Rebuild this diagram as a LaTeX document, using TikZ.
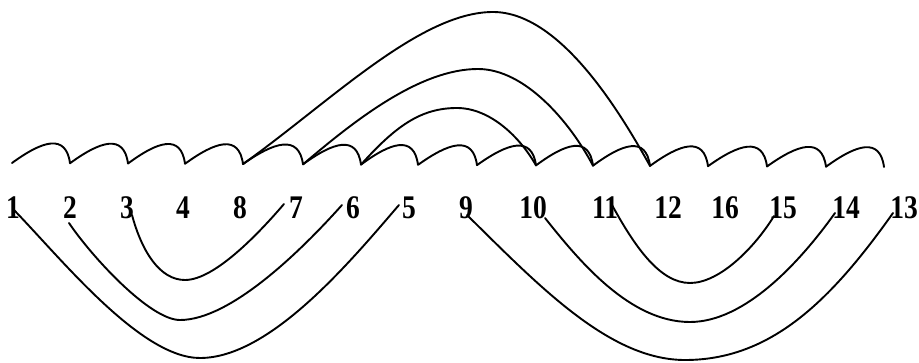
\documentclass[tikz,border=0pt]{standalone}
\usepackage{fontspec}
\setmainfont{Liberation Serif}
\usepackage{graphicx}
\newcommand\vstr[1]{\scalebox{1}[1.2]{#1}}
\begin{document}
\begin{tikzpicture}[x=1pt,y=1pt,
  declare function={cy(\x)=199-(\x-12)*0.0046;},
  wire/.style={line width=1.9pt, line join=round, line cap=round},
  num/.style={inner sep=0pt, font=\fontsize{27.5}{27.5}\selectfont\bfseries}]
\useasboundingbox (0,0) rectangle (919,362);

% number row
\foreach \lab/\xx in {1/13,2/70,3/127,4/183,8/240,7/296,6/353,5/409,9/466,10/533,11/605,12/668,16/725,15/783,14/846,13/904}
  \node[num] (n\lab) at (\xx,154.5) {\vstr{\lab}};

% scalloped line
\draw[wire] (12,{cy(12)})
  \foreach \a/\b in {12/70,70/128,128/185,185/243,243/303,303/361,361/418,418/477,477/536,536/593,593/650,650/708,708/767,767/826,826/884}
  { .. controls ({\a+0.52*(\b-\a)},{cy(\a)+22}) and ({\a+0.93*(\b-\a)},{cy(\a)+30}) .. (\b,{cy(\b)}) };

% cusp points where the upper arcs start and end
\coordinate (k4)  at (243,{cy(243)});
\coordinate (k5)  at (303,{cy(303)});
\coordinate (k6)  at (361,{cy(361)});
\coordinate (k9)  at (536,{cy(536)});
\coordinate (k10) at (593,{cy(593)});
\coordinate (k11) at (650,{cy(650)});

% upper arcs
\draw[wire] (k4) .. controls (330,260) and (420,350) .. (493,350)
                 .. controls (560,350) and (620,250) .. (k11);
\draw[wire] (k5) .. controls (355,242) and (420,293) .. (478,293)
                 .. controls (525,293) and (570,240) .. (k10);
\draw[wire] (k6) .. controls (395,235) and (420,254) .. (457,254)
                 .. controls (490,254) and (520,225) .. (k9);

% end points of the lower arcs at the numbers
\coordinate (a1s) at (13,153);  \coordinate (a1e) at (399,157);
\coordinate (a2s) at (69,139);  \coordinate (a2e) at (342,157);
\coordinate (a3s) at (132,147); \coordinate (a3e) at (284,158);
\coordinate (b1s) at (467,147); \coordinate (b1e) at (893,149);
\coordinate (b2s) at (545,144); \coordinate (b2e) at (835,149);
\coordinate (b3s) at (612,157); \coordinate (b3e) at (774,146);

% lower arcs, left group
\draw[wire] (a1s) .. controls (60,105) and (140,4) .. (200,4)
                  .. controls (270,4) and (350,100) .. (a1e);
\draw[wire] (a2s) .. controls (92,105) and (150,42) .. (180,42)
                  .. controls (230,42) and (300,110) .. (a2e);
\draw[wire] (a3s) .. controls (142,110) and (160,82) .. (185,82)
                  .. controls (215,82) and (260,130) .. (a3e);

% lower arcs, right group
\draw[wire] (b1s) .. controls (540,75) and (610,2) .. (685,2)
                  .. controls (770,2) and (830,60) .. (b1e);
\draw[wire] (b2s) .. controls (580,100) and (630,40) .. (690,40)
                  .. controls (745,40) and (800,100) .. (b2e);
\draw[wire] (b3s) .. controls (635,115) and (660,79) .. (690,79)
                  .. controls (720,79) and (755,115) .. (b3e);
\end{tikzpicture}
\end{document}
